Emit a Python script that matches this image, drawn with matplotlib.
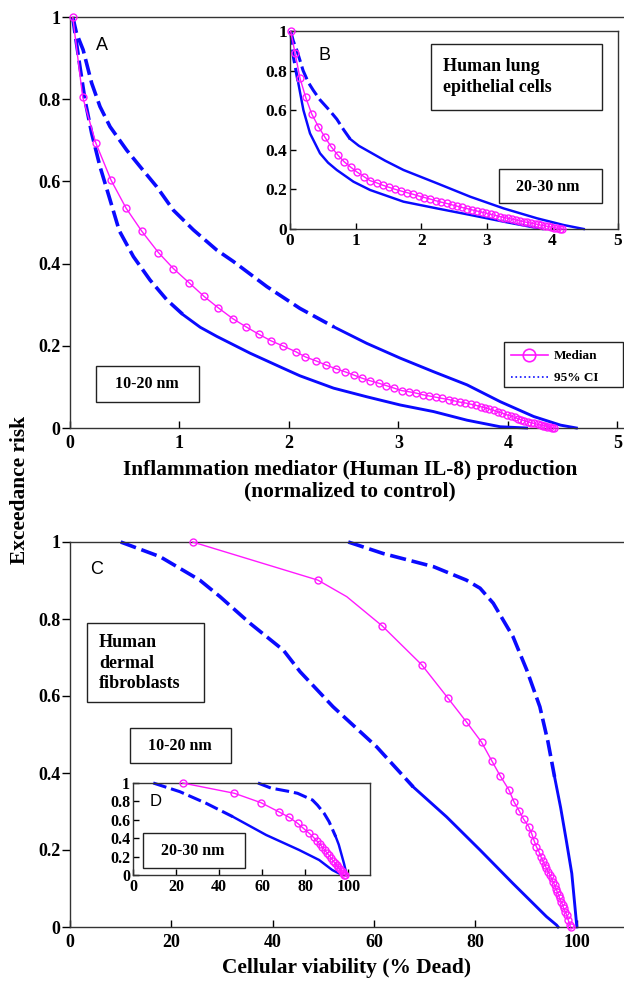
import matplotlib
matplotlib.use('Agg')
import matplotlib.pyplot as plt
from matplotlib.lines import Line2D
from matplotlib.patches import Rectangle

# ---- data ----
# panel A: IL-8, 10-20 nm
a_med_x = [0.025, 0.116, 0.235, 0.375, 0.512, 0.655, 0.807, 0.944, 1.085, 1.225,
           1.356, 1.487, 1.609, 1.725, 1.837, 1.95, 2.06, 2.15, 2.25, 2.34,
           2.43, 2.51, 2.59, 2.67, 2.74, 2.82, 2.89, 2.96, 3.03, 3.10,
           3.16, 3.22, 3.28, 3.34, 3.40, 3.46, 3.51, 3.56, 3.61, 3.66,
           3.71, 3.75, 3.79, 3.83, 3.87, 3.91, 3.95, 3.99, 4.03, 4.06,
           4.09, 4.12, 4.15, 4.18, 4.21, 4.24, 4.27, 4.30, 4.32, 4.34,
           4.36, 4.38, 4.40, 4.42]
a_med_y = [1.0, 0.805, 0.694, 0.603, 0.535, 0.479, 0.427, 0.388, 0.354, 0.320,
           0.292, 0.266, 0.246, 0.228, 0.212, 0.199, 0.186, 0.173, 0.163, 0.153,
           0.144, 0.137, 0.129, 0.121, 0.115, 0.109, 0.103, 0.097, 0.091, 0.088,
           0.085, 0.081, 0.078, 0.075, 0.072, 0.069, 0.066, 0.063, 0.061, 0.058,
           0.055, 0.052, 0.049, 0.046, 0.043, 0.039, 0.036, 0.032, 0.029, 0.026,
           0.023, 0.020, 0.018, 0.015, 0.013, 0.011, 0.009, 0.007, 0.006, 0.005,
           0.003, 0.002, 0.001, 0.0]
a_up_x = [0.025, 0.06, 0.12, 0.198, 0.274, 0.366, 0.518, 0.64, 0.792, 0.944, 1.127,
          1.34, 1.493, 1.798, 2.10, 2.41, 2.71, 3.016, 3.32, 3.626, 3.93, 4.235,
          4.48, 4.625]
a_up_y = [1.0, 0.96, 0.92, 0.839, 0.782, 0.733, 0.676, 0.636, 0.587, 0.53, 0.482,
          0.433, 0.405, 0.344, 0.291, 0.246, 0.206, 0.170, 0.137, 0.105, 0.064, 0.028,
          0.007, 0.0]
a_lo_x = [0.025, 0.046, 0.091, 0.137, 0.198, 0.274, 0.366, 0.45, 0.579, 0.731, 0.884,
          1.036, 1.19, 1.34, 1.645, 1.95, 2.10, 2.407, 2.71, 3.016, 3.32, 3.626, 3.93,
          4.17]
a_lo_y = [1.0, 0.96, 0.879, 0.798, 0.717, 0.636, 0.555, 0.48, 0.417, 0.36, 0.312,
          0.275, 0.245, 0.223, 0.182, 0.145, 0.127, 0.097, 0.076, 0.056, 0.040, 0.019,
          0.003, 0.0]

# panel B: IL-8, 20-30 nm
b_med_x = [0.01, 0.076, 0.153, 0.239, 0.331, 0.433, 0.534, 0.626, 0.728, 0.824,
           0.927, 1.028, 1.13, 1.221, 1.323, 1.415, 1.506, 1.598, 1.69, 1.78,
           1.87, 1.96, 2.05, 2.14, 2.22, 2.30, 2.39, 2.47, 2.54, 2.62,
           2.70, 2.77, 2.85, 2.92, 2.99, 3.06, 3.13, 3.20, 3.26, 3.32,
           3.38, 3.44, 3.50, 3.56, 3.62, 3.67, 3.73, 3.78, 3.83, 3.88,
           3.93, 3.98, 4.03, 4.07, 4.12, 4.15]
b_med_y = [1.0, 0.89, 0.761, 0.665, 0.581, 0.517, 0.463, 0.416, 0.374, 0.34,
           0.312, 0.286, 0.264, 0.244, 0.233, 0.221, 0.211, 0.201, 0.192, 0.184,
           0.176, 0.167, 0.159, 0.151, 0.143, 0.136, 0.129, 0.122, 0.116, 0.109,
           0.103, 0.097, 0.091, 0.085, 0.080, 0.074, 0.069, 0.063, 0.058, 0.054,
           0.050, 0.046, 0.041, 0.037, 0.033, 0.030, 0.026, 0.023, 0.019, 0.016,
           0.013, 0.010, 0.007, 0.004, 0.002, 0.0]
b_up_x = [0.01, 0.05, 0.107, 0.2, 0.28, 0.356, 0.458, 0.6, 0.713, 0.82, 0.916, 1.05,
          1.221, 1.45, 1.73, 2.24, 2.748, 3.257, 3.766, 4.173, 4.478]
b_up_y = [1.0, 0.95, 0.90, 0.80, 0.74, 0.70, 0.652, 0.60, 0.555, 0.50, 0.455, 0.42,
          0.388, 0.345, 0.298, 0.231, 0.163, 0.104, 0.054, 0.020, 0.0]
b_lo_x = [0.01, 0.051, 0.127, 0.204, 0.305, 0.458, 0.58, 0.713, 0.967, 1.221, 1.73,
          2.24, 2.748, 3.257, 3.766, 3.85]
b_lo_y = [1.0, 0.87, 0.736, 0.601, 0.483, 0.382, 0.335, 0.298, 0.239, 0.197, 0.138,
          0.104, 0.071, 0.037, 0.005, 0.0]

# panel C: viability, 10-20 nm
c_med_x = [24.2, 48.9, 54.6, 61.6, 69.4, 74.6, 78.2, 81.2, 83.2, 84.9, 86.6, 87.6,
           88.6, 89.5, 90.5, 91.1, 91.6, 92.0, 92.5, 92.9, 93.3, 93.7, 94.0, 94.3,
           94.7, 95.0, 95.3, 95.6, 95.9, 96.1, 96.4, 96.6, 96.9, 97.2, 97.4, 97.7,
           98.0, 98.3, 98.6, 98.8]
c_med_y = [1.0, 0.901, 0.858, 0.782, 0.681, 0.594, 0.533, 0.480, 0.432, 0.392, 0.356,
           0.325, 0.302, 0.280, 0.261, 0.242, 0.223, 0.209, 0.196, 0.183, 0.171, 0.161,
           0.152, 0.144, 0.135, 0.126, 0.118, 0.109, 0.100, 0.092, 0.083, 0.075, 0.066,
           0.057, 0.049, 0.040, 0.031, 0.018, 0.005, 0.0]
c_up_x = [54.9, 61.8, 71.7, 78.2, 80.9, 83.5, 87.4, 90.1, 92.7, 94.3, 95.6, 96.8,
          97.9, 99.0, 99.9, 100.0]
c_up_y = [1.0, 0.970, 0.936, 0.901, 0.880, 0.841, 0.754, 0.668, 0.572, 0.481, 0.39,
          0.31, 0.226, 0.139, 0.014, 0.0]
c_lo_x = [10.0, 17.75, 25.6, 29.6, 35.5, 42.1, 45.4, 51.9, 60.5, 67.7, 74.3, 80.9,
          87.4, 94.0, 96.0, 96.3]
c_lo_y = [1.0, 0.962, 0.901, 0.858, 0.789, 0.719, 0.663, 0.572, 0.468, 0.364, 0.286,
          0.2, 0.113, 0.027, 0.005, 0.0]

# panel D: viability, 20-30 nm
d_med_x = [23.0, 47.1, 59.4, 67.6, 72.5, 76.4, 79.1, 81.8, 83.8, 85.3, 86.7, 87.9,
           89.0, 89.9, 91.0, 91.9, 92.8, 93.8, 94.5, 95.3, 96.1, 96.9, 97.5, 98.1, 98.5]
d_med_y = [1.0, 0.888, 0.786, 0.688, 0.627, 0.562, 0.507, 0.453, 0.409, 0.370, 0.337,
           0.301, 0.272, 0.243, 0.214, 0.185, 0.156, 0.127, 0.105, 0.083, 0.062, 0.040,
           0.022, 0.004, 0.0]
d_up_x = [58.0, 64.0, 72.0, 76.4, 83.3, 85.6, 88.7, 91.0, 94.1, 95.5, 97.9, 99.2]
d_up_y = [1.0, 0.945, 0.91, 0.888, 0.815, 0.76, 0.67, 0.58, 0.416, 0.33, 0.127, 0.0]
d_lo_x = [9.4, 21.7, 34.0, 46.3, 61.8, 77.1, 86.4, 92.5, 97.1]
d_lo_y = [1.0, 0.906, 0.779, 0.634, 0.435, 0.272, 0.163, 0.054, 0.0]

y_ticks = [0, 0.2, 0.4, 0.6, 0.8, 1]
y_ticklabels = ['0', '0.2', '0.4', '0.6', '0.8', '1']
il8_ticks = [0, 1, 2, 3, 4, 5]
via_ticks = [0, 20, 40, 60, 80, 100]

BLUE = '#0a0aff'
MAG = '#ff19ff'
SERIF = 'Liberation Serif'
SANS = 'Liberation Sans'

W, H = 624, 981


def fx(px):
    return px / W


def fy(py):
    return 1 - py / H


def frame(ax, xlim, xticks, fs, main):
    ax.set_xlim(*xlim)
    ax.set_ylim(0, 1)
    ax.set_xticks(xticks)
    ax.set_xticklabels([str(t) for t in xticks])
    ax.set_yticks(y_ticks)
    ax.set_yticklabels(y_ticklabels)
    for lab in ax.get_xticklabels() + ax.get_yticklabels():
        lab.set_fontfamily(SERIF)
        lab.set_fontweight('bold')
        lab.set_fontsize(fs)
    for s in ax.spines.values():
        s.set_linewidth(1.0)
        s.set_color('#333333')
    if main:
        ax.spines['right'].set_visible(False)
        ax.tick_params(axis='y', direction='out', length=6, width=1, pad=1)
        ax.tick_params(axis='x', direction='in', length=5, width=1, pad=5)
    else:
        ax.tick_params(axis='y', direction='in', length=4, width=1, pad=2)
        ax.tick_params(axis='x', direction='in', length=4, width=1, pad=3)


def draw_ci(ax, x, y, n_dash, lw):
    ax.plot(x[:n_dash + 1], y[:n_dash + 1], color=BLUE, lw=lw, dashes=(4.5, 1.6),
            clip_on=False)
    ax.plot(x[n_dash:], y[n_dash:], color=BLUE, lw=lw * 0.8, clip_on=False)


def draw_med(ax, x, y, ms, every=None):
    ax.plot(x, y, color=MAG, lw=1.0, marker='o', ms=ms, mfc='none', mec=MAG,
            mew=1.0, markevery=every, clip_on=False, zorder=3)


def box(x0, y0, x1, y1):
    fig.add_artist(Rectangle((fx(x0), fy(y1)), fx(x1) - fx(x0), fy(y0) - fy(y1),
                             transform=fig.transFigure, fill=False,
                             ec='#222222', lw=1.0))


fig = plt.figure(figsize=(6.24, 9.81), dpi=100)

axA = fig.add_axes([fx(70), fy(428), fx(624) - fx(70), fy(17) - fy(428)])
axB = fig.add_axes([fx(290), fy(229), fx(618) - fx(290), fy(31) - fy(229)])
axC = fig.add_axes([fx(70), fy(927), fx(624) - fx(70), fy(542) - fy(927)])
axD = fig.add_axes([fx(133), fy(875), fx(370) - fx(133), fy(783) - fy(875)])

frame(axA, (0, 5.06), il8_ticks, 13, True)
frame(axB, (0, 5), il8_ticks, 12.5, False)
frame(axC, (0, 109.3), via_ticks, 13, True)
frame(axD, (0, 110), via_ticks, 11.5, False)

draw_ci(axA, a_up_x, a_up_y, 15, 2.6)
draw_ci(axA, a_lo_x, a_lo_y, 11, 2.6)
draw_med(axA, a_med_x, a_med_y, 5)

draw_ci(axB, b_up_x, b_up_y, 10, 2.2)
draw_ci(axB, b_lo_x, b_lo_y, 2, 2.2)
draw_med(axB, b_med_x, b_med_y, 5)

draw_ci(axC, c_up_x, c_up_y, 10, 2.6)
draw_ci(axC, c_lo_x, c_lo_y, 9, 2.6)
draw_med(axC, c_med_x, c_med_y, 5, [i for i in range(len(c_med_x)) if i != 2])

draw_ci(axD, d_up_x, d_up_y, 8, 2.2)
draw_ci(axD, d_lo_x, d_lo_y, 3, 2.2)
draw_med(axD, d_med_x, d_med_y, 5)

# panel letters
for txt, px, py, fs in [('A', 102, 45, 13), ('B', 325, 55, 13),
                        ('C', 97, 570, 13), ('D', 156, 802, 12)]:
    fig.text(fx(px), fy(py), txt, family=SANS, fontsize=fs, ha='center', va='center')

# boxed annotations
bold = dict(family=SERIF, fontweight='bold', fontsize=11.5)
big = dict(family=SERIF, fontweight='bold', fontsize=13)
box(96, 366, 199, 402)
fig.text(fx(147), fy(384), '10-20 nm', ha='center', va='center', **bold)
box(431, 44, 602, 110)
fig.text(fx(443), fy(77), 'Human lung\nepithelial cells', ha='left', va='center',
         linespacing=1.3, **big)
box(499, 169, 602, 203)
fig.text(fx(548), fy(187), '20-30 nm', ha='center', va='center', **bold)
box(87, 623, 204, 702)
fig.text(fx(99), fy(663), 'Human\ndermal\nfibroblasts', ha='left', va='center',
         linespacing=1.25, **big)
box(130, 728, 231, 763)
fig.text(fx(180), fy(746), '10-20 nm', ha='center', va='center', **bold)
box(143, 833, 245, 868)
fig.text(fx(193), fy(851), '20-30 nm', ha='center', va='center', **bold)

# axis titles
lab = dict(family=SERIF, fontweight='bold', fontsize=15.4)
fig.text(fx(350), fy(481), 'Inflammation mediator (Human IL-8) production\n'
         '(normalized to control)', ha='center', va='center', linespacing=1.1, **lab)
fig.text(fx(347), fy(968), 'Cellular viability (% Dead)', ha='center', va='center', **lab)
fig.text(fx(20), fy(490), 'Exceedance risk', ha='center', va='center', rotation=90, **lab)

# legend (frame drawn as a separate box)
handles = [Line2D([], [], color=MAG, lw=1.2, marker='o', ms=9, mfc='none', mew=1.2),
           Line2D([], [], color=BLUE, lw=1.2, ls=':')]
box(504, 342, 623, 387)
axA.legend(handles, ['Median', '95% CI'], loc='upper left',
           bbox_to_anchor=(fx(511), fy(350)), bbox_transform=fig.transFigure,
           borderaxespad=0, borderpad=0, frameon=False,
           prop=dict(family=SERIF, weight='bold', size=9.5),
           handlelength=2.8, handletextpad=0.45, labelspacing=0.75)

fig.savefig('out.png', dpi=100)
